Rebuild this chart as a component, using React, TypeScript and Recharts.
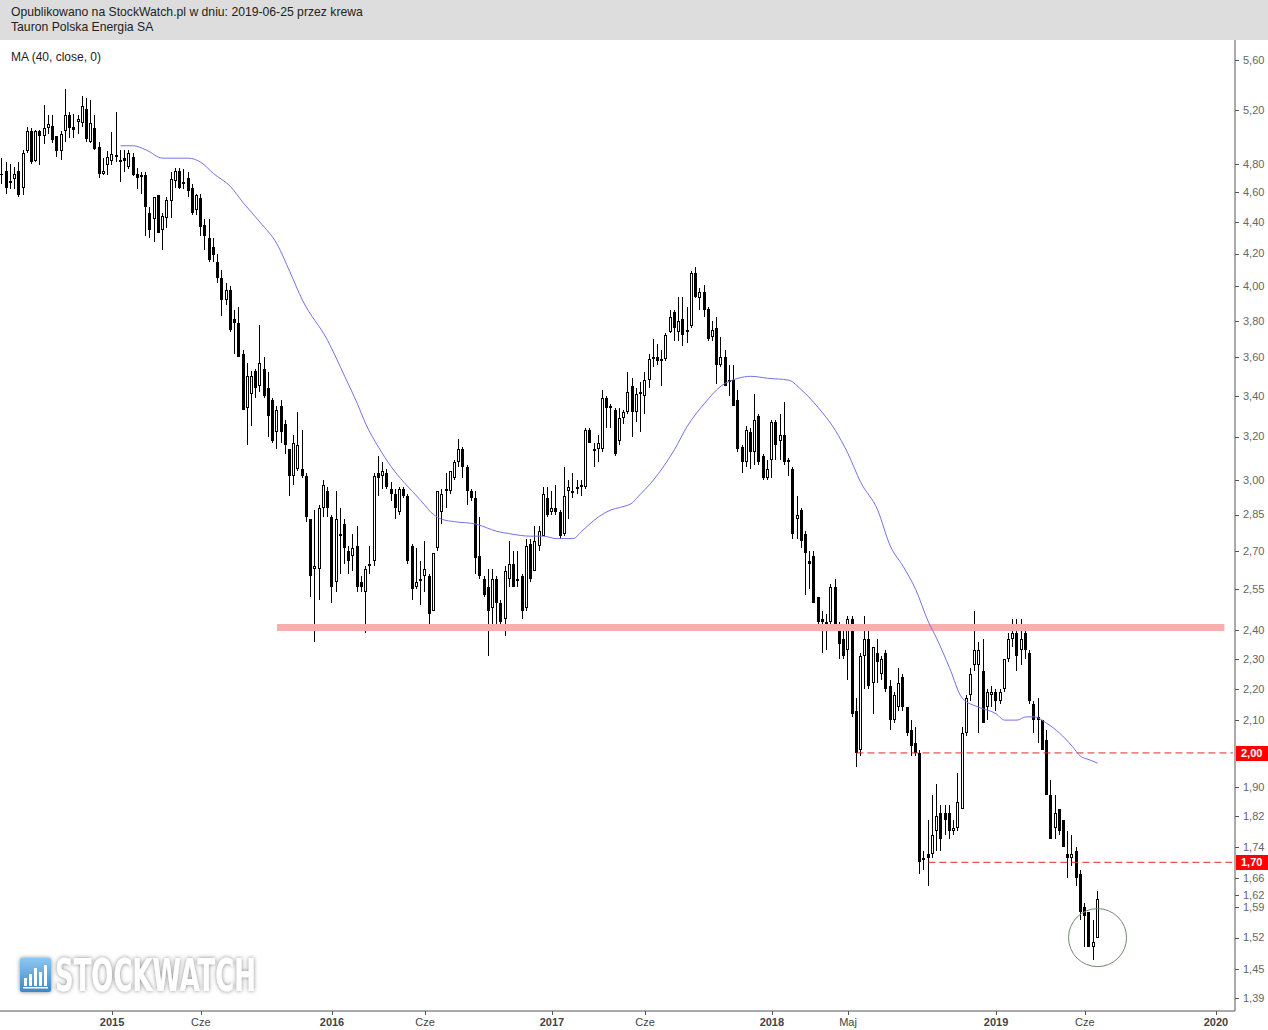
import React from 'react';
import {
  ComposedChart,
  Bar,
  Line,
  XAxis,
  YAxis,
  ReferenceLine,
  ReferenceDot,
} from 'recharts';

// weekly candles, Tauron (TPE), from ~July 2014 to June 2019
const opens = [
  4.73, 4.75, 4.67, 4.69, 4.75, 4.63, 4.89, 5.04, 4.82, 5.04,
  5.0, 5.06, 5.08, 5.0, 4.89, 5.04, 5.16, 5.07, 5.11, 5.1,
  5.21, 4.96, 5.06, 4.92, 4.73, 4.79, 4.82, 4.85, 4.83, 4.84,
  4.78, 4.85, 4.73, 4.72, 4.72, 4.46, 4.42, 4.58, 4.35, 4.43,
  4.54, 4.68, 4.75, 4.67, 4.7, 4.63, 4.48, 4.56, 4.38, 4.3,
  4.24, 4.15, 4.05, 3.92, 3.98, 3.81, 3.79, 3.62, 3.34, 3.41,
  3.53, 3.45, 3.54, 3.44, 3.38, 3.22, 3.35, 3.26, 3.14, 3.02,
  3.05, 3.05, 3.02, 2.83, 2.63, 2.63, 2.88, 2.95, 2.84, 2.58,
  2.77, 2.81, 2.7, 2.68, 2.72, 2.58, 2.54, 2.64, 2.66, 3.03,
  3.02, 3.03, 2.96, 2.94, 2.86, 2.96, 2.93, 2.72, 2.56, 2.59,
  2.6, 2.6, 2.47, 2.71, 2.86, 2.95, 2.95, 3.01, 3.08, 3.14,
  3.06, 2.95, 2.92, 2.68, 2.59, 2.56, 2.48, 2.59, 2.5, 2.44,
  2.59, 2.65, 2.59, 2.6, 2.48, 2.73, 2.62, 2.72, 2.76, 2.92,
  2.86, 2.88, 2.86, 2.77, 2.95, 2.95, 2.96, 2.97, 2.97, 3.23,
  3.14, 3.14, 3.14, 3.39, 3.35, 3.33, 3.18, 3.29, 3.32, 3.45,
  3.32, 3.41, 3.4, 3.48, 3.59, 3.6, 3.59, 3.59, 3.74, 3.85,
  3.74, 3.81, 3.75, 3.77, 4.08, 3.93, 3.97, 3.87, 3.71, 3.76,
  3.56, 3.6, 3.47, 3.48, 3.38, 3.15, 3.08, 3.22, 3.13, 3.3,
  3.11, 3.01, 3.09, 3.27, 3.18, 3.21, 3.09, 3.05, 2.83, 2.87,
  2.77, 2.66, 2.68, 2.52, 2.44, 2.43, 2.43, 2.56, 2.42, 2.37,
  2.33, 2.44, 2.13, 2.01, 2.31, 2.37, 2.22, 2.32, 2.25, 2.32,
  2.21, 2.1, 2.14, 2.24, 2.14, 2.07, 2.03, 2.0, 1.71, 1.72,
  1.72, 1.78, 1.83, 1.83, 1.83, 1.78, 1.79, 1.84, 2.06, 2.18,
  2.28, 2.28, 2.26, 2.14, 2.18, 2.19, 2.16, 2.2, 2.3, 2.37,
  2.39, 2.33, 2.39, 2.32, 2.15, 2.11, 2.1, 2.04, 1.88, 1.79,
  1.84, 1.81, 1.72, 1.71, 1.73, 1.67, 1.59, 1.58, 1.5, 1.52,
];

const highs = [
  4.84, 4.81, 4.8, 4.78, 4.81, 4.9, 5.07, 5.06, 5.05, 5.05,
  5.24, 5.16, 5.16, 5.0, 5.04, 5.36, 5.18, 5.17, 5.16, 5.31,
  5.29, 5.28, 5.16, 4.96, 4.84, 4.89, 5.03, 5.18, 4.9, 4.9,
  4.9, 4.88, 4.77, 4.74, 4.74, 4.5, 4.57, 4.58, 4.46, 4.57,
  4.74, 4.77, 4.77, 4.76, 4.74, 4.66, 4.59, 4.59, 4.42, 4.42,
  4.3, 4.2, 4.1, 4.02, 4.0, 3.86, 3.88, 3.64, 3.57, 3.53,
  3.54, 3.78, 3.6, 3.52, 3.39, 3.35, 3.38, 3.28, 3.14, 3.21,
  3.32, 3.23, 3.03, 2.83, 2.87, 2.89, 3.0, 2.97, 2.85, 2.95,
  2.88, 2.83, 2.72, 2.77, 2.8, 2.6, 2.64, 2.72, 3.03, 3.11,
  3.08, 3.05, 2.99, 2.96, 2.97, 2.97, 2.94, 2.73, 2.71, 2.66,
  2.74, 2.61, 2.69, 2.95, 2.96, 3.03, 3.04, 3.09, 3.19, 3.15,
  3.07, 2.96, 2.95, 2.84, 2.6, 2.63, 2.63, 2.6, 2.51, 2.64,
  2.74, 2.7, 2.7, 2.61, 2.75, 2.75, 2.8, 2.8, 2.97, 2.97,
  2.95, 2.98, 2.87, 3.06, 3.0, 3.03, 3.0, 3.0, 3.24, 3.24,
  3.17, 3.21, 3.43, 3.4, 3.36, 3.34, 3.34, 3.33, 3.52, 3.49,
  3.44, 3.47, 3.52, 3.62, 3.7, 3.67, 3.64, 3.73, 3.86, 3.86,
  3.94, 3.94, 3.88, 4.09, 4.12, 3.99, 4.01, 3.88, 3.8, 3.82,
  3.71, 3.64, 3.56, 3.56, 3.43, 3.16, 3.25, 3.24, 3.41, 3.31,
  3.12, 3.09, 3.28, 3.28, 3.31, 3.37, 3.1, 3.06, 2.93, 2.88,
  2.78, 2.7, 2.7, 2.52, 2.47, 2.46, 2.57, 2.59, 2.43, 2.4,
  2.45, 2.45, 2.17, 2.32, 2.45, 2.41, 2.34, 2.37, 2.31, 2.33,
  2.23, 2.19, 2.27, 2.25, 2.14, 2.1, 2.08, 2.01, 1.73, 1.81,
  1.88, 1.91, 1.85, 1.85, 1.85, 1.81, 1.94, 2.08, 2.18, 2.27,
  2.47, 2.36, 2.37, 2.2, 2.21, 2.2, 2.2, 2.3, 2.39, 2.44,
  2.44, 2.44, 2.42, 2.33, 2.16, 2.17, 2.1, 2.07, 1.92, 1.88,
  1.84, 1.81, 1.78, 1.77, 1.74, 1.68, 1.6, 1.58, 1.56, 1.63,
];

const lows = [
  4.66, 4.59, 4.62, 4.62, 4.57, 4.58, 4.88, 4.8, 4.81, 4.79,
  4.94, 5.02, 4.95, 4.85, 4.83, 4.96, 4.99, 4.99, 5.02, 5.07,
  4.96, 4.95, 4.9, 4.7, 4.72, 4.72, 4.79, 4.81, 4.67, 4.74,
  4.76, 4.71, 4.62, 4.59, 4.31, 4.3, 4.27, 4.33, 4.22, 4.36,
  4.43, 4.63, 4.62, 4.62, 4.57, 4.45, 4.45, 4.31, 4.22, 4.15,
  4.15, 4.02, 3.83, 3.89, 3.74, 3.62, 3.6, 3.33, 3.16, 3.25,
  3.39, 3.42, 3.39, 3.2, 3.17, 3.14, 3.17, 3.12, 2.93, 2.98,
  3.04, 3.01, 2.82, 2.52, 2.36, 2.51, 2.84, 2.84, 2.5, 2.54,
  2.61, 2.65, 2.61, 2.62, 2.54, 2.54, 2.39, 2.61, 2.64, 2.93,
  2.96, 2.96, 2.91, 2.83, 2.85, 2.92, 2.65, 2.51, 2.55, 2.49,
  2.54, 2.4, 2.47, 2.7, 2.81, 2.88, 2.94, 3.0, 3.06, 3.01,
  2.89, 2.91, 2.61, 2.59, 2.52, 2.31, 2.42, 2.42, 2.42, 2.38,
  2.56, 2.56, 2.56, 2.44, 2.47, 2.58, 2.62, 2.7, 2.76, 2.84,
  2.85, 2.85, 2.75, 2.76, 2.83, 2.92, 2.94, 2.93, 2.96, 3.17,
  3.06, 3.08, 3.13, 3.24, 3.24, 3.11, 3.16, 3.26, 3.31, 3.2,
  3.27, 3.22, 3.31, 3.44, 3.55, 3.56, 3.45, 3.58, 3.73, 3.69,
  3.69, 3.66, 3.68, 3.76, 3.93, 3.86, 3.82, 3.69, 3.69, 3.46,
  3.55, 3.45, 3.4, 3.35, 3.13, 3.03, 3.06, 3.05, 3.07, 3.07,
  3.0, 3.0, 3.01, 3.09, 3.09, 3.07, 3.02, 2.75, 2.75, 2.71,
  2.53, 2.55, 2.5, 2.42, 2.32, 2.33, 2.42, 2.41, 2.3, 2.3,
  2.23, 2.11, 1.96, 1.99, 2.2, 2.2, 2.12, 2.22, 2.23, 2.19,
  2.07, 2.09, 2.13, 2.13, 2.05, 1.99, 1.99, 1.67, 1.68, 1.64,
  1.71, 1.73, 1.73, 1.77, 1.76, 1.77, 1.78, 1.84, 2.05, 2.16,
  2.26, 2.06, 2.09, 2.1, 2.14, 2.13, 2.15, 2.19, 2.29, 2.34,
  2.26, 2.28, 2.3, 2.15, 2.06, 2.03, 2.01, 1.88, 1.76, 1.76,
  1.77, 1.74, 1.66, 1.69, 1.64, 1.56, 1.5, 1.5, 1.47, 1.52,
];

const closes = [
  4.72, 4.63, 4.68, 4.73, 4.58, 4.88, 5.04, 4.81, 5.04, 5.0,
  5.06, 5.09, 4.97, 4.89, 5.02, 5.16, 5.06, 5.05, 5.13, 5.23,
  4.98, 5.1, 4.91, 4.73, 4.75, 4.85, 4.87, 4.86, 4.83, 4.82,
  4.88, 4.72, 4.7, 4.72, 4.5, 4.35, 4.57, 4.33, 4.44, 4.55,
  4.69, 4.75, 4.63, 4.67, 4.61, 4.46, 4.58, 4.37, 4.31, 4.16,
  4.19, 4.05, 3.92, 3.98, 3.75, 3.79, 3.6, 3.33, 3.5, 3.5,
  3.44, 3.57, 3.4, 3.3, 3.18, 3.33, 3.22, 3.16, 3.02, 3.17,
  3.16, 3.02, 2.84, 2.6, 2.64, 2.88, 2.98, 2.88, 2.56, 2.83,
  2.77, 2.71, 2.66, 2.71, 2.56, 2.56, 2.63, 2.65, 3.02, 3.01,
  3.04, 2.97, 2.94, 2.88, 2.96, 2.93, 2.66, 2.55, 2.58, 2.59,
  2.63, 2.46, 2.69, 2.95, 2.94, 2.96, 3.04, 3.08, 3.14, 3.06,
  2.95, 2.92, 2.67, 2.6, 2.53, 2.47, 2.59, 2.5, 2.43, 2.62,
  2.65, 2.56, 2.59, 2.47, 2.72, 2.59, 2.74, 2.78, 2.94, 2.85,
  2.88, 2.86, 2.76, 2.93, 2.97, 2.95, 2.97, 2.98, 3.23, 3.17,
  3.14, 3.17, 3.39, 3.34, 3.35, 3.12, 3.29, 3.32, 3.42, 3.32,
  3.41, 3.42, 3.48, 3.59, 3.6, 3.58, 3.59, 3.72, 3.82, 3.76,
  3.8, 3.72, 3.74, 4.08, 3.94, 3.97, 3.86, 3.7, 3.75, 3.56,
  3.6, 3.45, 3.48, 3.35, 3.14, 3.08, 3.23, 3.13, 3.28, 3.08,
  3.01, 3.05, 3.27, 3.16, 3.21, 3.08, 3.08, 2.77, 2.85, 2.74,
  2.69, 2.65, 2.5, 2.43, 2.43, 2.42, 2.56, 2.42, 2.35, 2.31,
  2.44, 2.12, 2.0, 2.31, 2.37, 2.21, 2.34, 2.29, 2.3, 2.2,
  2.1, 2.18, 2.22, 2.14, 2.06, 2.02, 2.0, 1.7, 1.71, 1.71,
  1.77, 1.82, 1.76, 1.81, 1.78, 1.79, 1.86, 2.06, 2.17, 2.25,
  2.33, 2.33, 2.09, 2.19, 2.19, 2.16, 2.19, 2.3, 2.37, 2.39,
  2.31, 2.37, 2.33, 2.16, 2.1, 2.1, 2.01, 1.88, 1.76, 1.83,
  1.78, 1.74, 1.71, 1.72, 1.66, 1.58, 1.57, 1.5, 1.51, 1.61,
];

// MA (40, close) at these week indexes
const maWeeks = [
  28, 31, 34, 38, 44, 47, 50, 54, 57, 61, 65, 68, 71, 77, 81, 84, 86, 89, 92, 95,
  97, 99, 102, 104, 107, 112, 117, 120, 125, 128, 131, 135, 137, 141, 144, 146, 149, 150, 154, 159,
  162, 166, 170, 174, 177, 181, 186, 189, 193, 197, 200, 203, 207, 210, 213, 216, 219, 221, 224, 227,
  231, 235, 237, 240, 242, 244, 247, 250, 253, 255, 257, 259,
];
const maValues = [
  4.93, 4.93, 4.9, 4.84, 4.84, 4.81, 4.73, 4.64, 4.53, 4.4, 4.26, 4.09, 3.92, 3.69, 3.5, 3.36, 3.26, 3.15, 3.06, 2.99,
  2.95, 2.91, 2.85, 2.83, 2.82, 2.81, 2.78, 2.77, 2.76, 2.76, 2.75, 2.75, 2.78, 2.84, 2.87, 2.88, 2.9, 2.92, 3.0, 3.14,
  3.25, 3.36, 3.45, 3.49, 3.5, 3.49, 3.48, 3.43, 3.34, 3.23, 3.12, 2.99, 2.87, 2.72, 2.64, 2.55, 2.43, 2.37, 2.27, 2.17,
  2.14, 2.12, 2.1, 2.1, 2.11, 2.11, 2.09, 2.06, 2.02, 1.99, 1.98, 1.97,
];

const yTicks = [
  5.6, 5.2, 4.8, 4.6, 4.4, 4.2, 4.0, 3.8, 3.6, 3.4, 3.2, 3.0, 2.85, 2.7, 2.55,
  2.4, 2.3, 2.2, 2.1, 2.0, 1.9, 1.82, 1.74, 1.7, 1.66, 1.62, 1.59, 1.52, 1.45, 1.39,
];
const flaggedLevels = [2.0, 1.7];

const xTickSlots = [26, 47, 78, 100, 130, 152, 182, 200, 235, 256, 287];
const xTickLabels = ['2015', 'Cze', '2016', 'Cze', '2017', 'Cze', '2018', 'Maj', '2019', 'Cze', '2020'];

const CHART_W = 1268;
const CHART_H = 1030;
const PLOT_RIGHT = 1235;
const AXIS_Y = 1011;
const TOTAL_SLOTS = 292; // weeks shown incl. empty space up to the axis
const FONT = '"Liberation Sans", Arial, sans-serif';

const fmt = (v: number) => v.toFixed(2).replace('.', ',');

const chartData = Array.from({ length: TOTAL_SLOTS }, (_, i) => {
  const row: Record<string, any> = { slot: i };
  if (i < closes.length) {
    row.open = opens[i];
    row.high = highs[i];
    row.low = lows[i];
    row.close = closes[i];
    row.range = [lows[i], highs[i]];
  }
  const m = maWeeks.indexOf(i);
  if (m !== -1) row.ma = maValues[m];
  return row;
});

function Candle(props: any) {
  const { x, y, width, height, payload } = props;
  if (!payload || payload.close == null) return null;
  const { open, high, low, close } = payload;
  const top = Math.min(y, y + height);
  const span = Math.abs(height);
  const lnH = Math.log(high);
  const lnL = Math.log(low);
  // log axis: position inside the high-low span
  const toY = (v: number) =>
    lnH === lnL ? top : top + (span * (lnH - Math.log(v))) / (lnH - lnL);
  const cx = Math.floor(x + width / 2) + 0.5;
  const yO = Math.round(toY(open));
  const yC = Math.round(toY(close));
  const bTop = Math.min(yO, yC);
  const bBot = Math.max(yO, yC);
  const up = close >= open;

  return (
    <g>
      <line x1={cx} x2={cx} y1={Math.round(top)} y2={Math.round(top + span)} stroke="#000" strokeWidth={1} />
      {up ? (
        <rect
          x={cx - 1}
          y={bTop + 0.5}
          width={2}
          height={Math.max(bBot - bTop - 1, 1)}
          fill="#fff"
          stroke="#000"
          strokeWidth={1}
        />
      ) : (
        <rect x={cx - 1.5} y={bTop} width={3} height={Math.max(bBot - bTop, 1)} fill="#000" />
      )}
    </g>
  );
}

function XTick(props: any) {
  const { x, payload } = props;
  const label = xTickLabels[xTickSlots.indexOf(payload.value)] ?? '';
  const isYear = /^\d{4}$/.test(label);
  const px = Math.round(x) + 0.5;
  return (
    <g>
      <line x1={px} x2={px} y1={AXIS_Y} y2={AXIS_Y + 4} stroke="#555" />
      <text
        x={x}
        y={AXIS_Y + 15}
        textAnchor="middle"
        fontSize={11}
        fontWeight={isYear ? 'bold' : 'normal'}
        fontFamily={FONT}
        fill="#444"
      >
        {label}
      </text>
    </g>
  );
}

function YTick(props: any) {
  const { y, payload } = props;
  const v = payload.value;
  const py = Math.round(y) + 0.5;
  if (flaggedLevels.includes(v)) {
    return (
      <g>
        <rect x={PLOT_RIGHT + 1} y={Math.round(y) - 7} width={CHART_W - PLOT_RIGHT - 1} height={15} fill="#ff0000" />
        <text x={PLOT_RIGHT + 6} y={y} dy="0.35em" fontSize={11} fontWeight="bold" fontFamily={FONT} fill="#fff">
          {fmt(v)}
        </text>
      </g>
    );
  }
  return (
    <g>
      <line x1={PLOT_RIGHT} x2={PLOT_RIGHT + 4} y1={py} y2={py} stroke="#555" />
      <text x={PLOT_RIGHT + 8} y={y} dy="0.35em" fontSize={11} fontFamily={FONT} fill="#666">
        {fmt(v)}
      </text>
    </g>
  );
}

function Watermark() {
  return (
    <svg style={{ position: 'absolute', left: 0, top: 946 }} width={420} height={60}>
      <defs>
        <linearGradient id="wmBlue" x1="0" y1="0" x2="0" y2="1">
          <stop offset="0" stopColor="#8cc8f0" />
          <stop offset="1" stopColor="#3f86c6" />
        </linearGradient>
        <filter id="wmShadow" x="-20%" y="-40%" width="140%" height="180%">
          <feDropShadow dx="0" dy="0" stdDeviation="2" floodColor="#666" floodOpacity="0.8" />
        </filter>
      </defs>
      <rect x={20} y={12} width={31} height={34} rx={2} fill="url(#wmBlue)" filter="url(#wmShadow)" />
      <rect x={24} y={32} width={3} height={8} fill="#fff" />
      <rect x={29} y={28} width={3} height={12} fill="#fff" />
      <rect x={34} y={22} width={3} height={18} fill="#fff" />
      <rect x={39} y={26} width={3} height={14} fill="#fff" />
      <rect x={44} y={19} width={3} height={21} fill="#fff" />
      <rect x={23} y={41} width={25} height={1.5} fill="#fff" />
      <text
        x={55}
        y={45}
        fontSize={44}
        fontWeight="bold"
        fontFamily='"DejaVu Sans Condensed", "DejaVu Sans", sans-serif'
        fill="#fff"
        textLength={201}
        lengthAdjust="spacingAndGlyphs"
        filter="url(#wmShadow)"
      >
        STOCKWATCH
      </text>
    </svg>
  );
}

export default function App() {
  return (
    <div style={{ position: 'absolute', left: 0, top: 0, width: CHART_W, height: CHART_H, background: '#fff', overflow: 'hidden' }}>
      <ComposedChart
        width={CHART_W}
        height={CHART_H}
        data={chartData}
        margin={{ top: 40, right: 0, bottom: 0, left: 0 }}
      >
        <XAxis
          dataKey="slot"
          type="category"
          height={19}
          ticks={xTickSlots}
          interval={0}
          tick={<XTick />}
          tickLine={false}
          axisLine={{ stroke: '#555' }}
        />
        <YAxis
          orientation="right"
          width={CHART_W - PLOT_RIGHT}
          scale="log"
          type="number"
          domain={[1.363, 5.769]}
          allowDataOverflow
          ticks={yTicks}
          interval={0}
          tick={<YTick />}
          tickLine={false}
          axisLine={{ stroke: '#555' }}
        />
        <ReferenceLine
          segment={[{ x: 65, y: 2.41 }, { x: 289, y: 2.41 }]}
          stroke="#f9adad"
          strokeWidth={7}
          ifOverflow="visible"
        />
        <ReferenceLine
          segment={[{ x: 202, y: 2.0 }, { x: 291, y: 2.0 }]}
          stroke="#dd2b2b"
          strokeDasharray="7 4"
          ifOverflow="visible"
        />
        <ReferenceLine
          segment={[{ x: 219, y: 1.7 }, { x: 291, y: 1.7 }]}
          stroke="#dd2b2b"
          strokeDasharray="7 4"
          ifOverflow="visible"
        />
        <Bar dataKey="range" shape={Candle} isAnimationActive={false} />
        <Line
          dataKey="ma"
          type="monotone"
          stroke="#7272e6"
          strokeWidth={1}
          dot={false}
          connectNulls
          isAnimationActive={false}
        />
        <ReferenceDot
          x={259}
          y={1.52}
          r={29}
          fill="none"
          stroke="#6f8a6f"
          strokeWidth={1}
          ifOverflow="visible"
        />
      </ComposedChart>

      <div
        style={{
          position: 'absolute',
          left: 0,
          top: 0,
          width: CHART_W,
          height: 40,
          background: '#dddddd',
          fontFamily: FONT,
          fontSize: 12.2,
          color: '#222',
          lineHeight: '15px',
        }}
      >
        <div style={{ position: 'absolute', left: 11, top: 5 }}>
          Opublikowano na StockWatch.pl w dniu: 2019-06-25 przez krewa
        </div>
        <div style={{ position: 'absolute', left: 11, top: 20 }}>Tauron Polska Energia SA</div>
      </div>
      <div style={{ position: 'absolute', left: 11, top: 50, fontFamily: FONT, fontSize: 12, color: '#222' }}>
        MA (40, close, 0)
      </div>
      <Watermark />
    </div>
  );
}
